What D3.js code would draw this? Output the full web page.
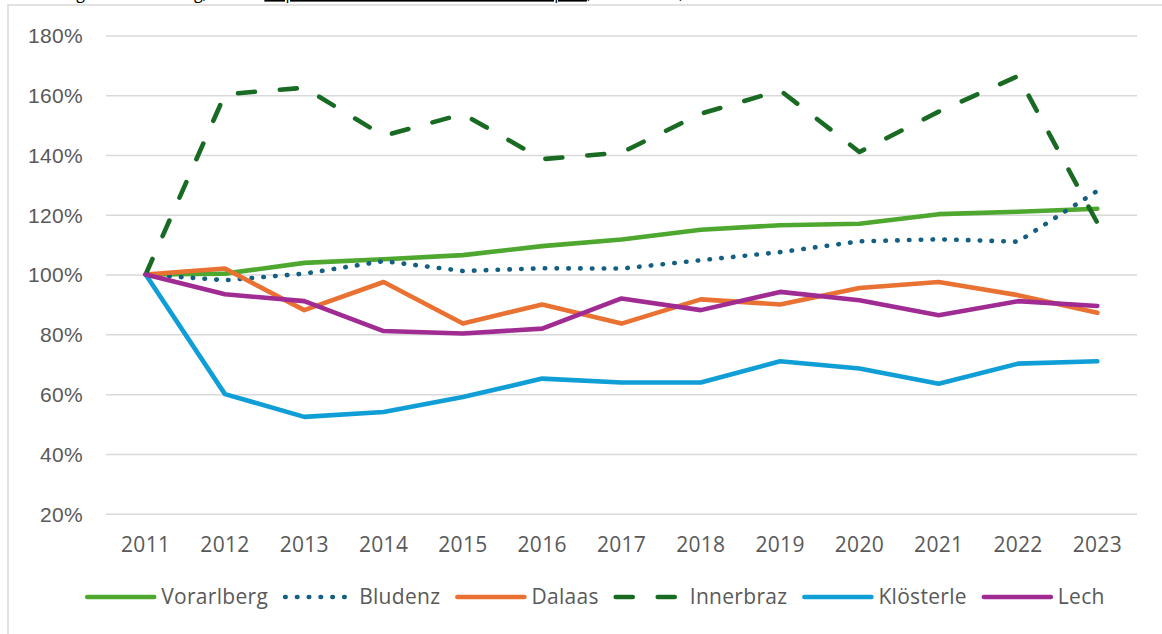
<!DOCTYPE html>
<html>
<head>
<meta charset="utf-8">
<script src="https://cdn.jsdelivr.net/npm/d3@7"></script>
<style>
  body { margin: 0; background: #fff; }
  svg { display: block; font-family: "Open Sans", "Liberation Sans", sans-serif; }
  .tick text, .xlab, .legend text { fill: #595959; font-size: 21px; letter-spacing: 0.3px; }
  .domain { display: none; }
  .grid line { stroke: #d9d9d9; stroke-width: 1.5; }
</style>
</head>
<body>
<div id="chart"></div>
<script>
var years = ["2011","2012","2013","2014","2015","2016","2017","2018","2019","2020","2021","2022","2023"]
var yTicks = [20,40,60,80,100,120,140,160,180]

var vorarlberg = [100,100.3,103.9,105.1,106.5,109.5,111.7,115,116.5,117,120.2,121,122]
var bludenz    = [100,98.1,100.3,104.5,101.2,102.1,102,104.8,107.5,111.1,111.8,111,128]
var dalaas     = [100,102,88.1,97.5,83.6,90,83.6,91.7,90,95.5,97.5,93.1,87.2]
var innerbraz  = [100,160.3,162.5,146.4,153.7,138.6,140.8,153.8,161.6,141,154.5,166.4,117.3]
var kloesterle = [100,60,52.4,54,59,65.2,63.9,63.9,71,68.6,63.5,70.2,71]
var lech       = [100,93.4,91.1,81.1,80.3,81.9,92,88.1,94.2,91.4,86.4,91.1,89.5]

var seriesNames = ["Vorarlberg","Bludenz","Dalaas","Innerbraz","Klösterle","Lech"]
var seriesValues = [vorarlberg, bludenz, dalaas, innerbraz, kloesterle, lech]
var seriesColors = ["#4ea72e","#156082","#e97132","#196b24","#0f9ed5","#a02b93"]
var seriesDash = [null, "0.5 11.3", null, "17 25", null, null]

var W = 1162, H = 634
var plot = {left: 106, right: 1137, top: 35.4, bottom: 513.7}

var svg = d3.select("#chart").append("svg")
  .attr("width", W)
  .attr("height", H)

// chart frame (right/bottom edges fall outside the crop)
svg.append("rect")
  .attr("x", 8).attr("y", 5)
  .attr("width", 1170).attr("height", 650)
  .attr("fill", "none")
  .attr("stroke", "#d9d9d9")
  .attr("stroke-width", 1.5)

// source line, cropped at the top edge like in the original
var src = svg.append("text")
  .attr("x", 10).attr("y", -1)
  .style("font-size", "16px")
  .style("fill", "#000")
src.append("tspan").text("Grafik: eigene Darstellung; Daten: ")
src.append("tspan").style("text-decoration", "underline")
  .text("https://www.statistik.at/atlas/blick/?mapid=")
src.append("tspan").text(", Stand 2024, Gemeinden")

var x = d3.scaleBand().domain(years).range([plot.left, plot.right])
var y = d3.scaleLinear().domain([20,180]).range([plot.bottom, plot.top])

function xc(d){ return x(d) + x.bandwidth()/2 }

svg.append("g")
  .attr("class", "grid")
  .attr("transform", "translate(" + plot.left + ",0)")
  .call(d3.axisLeft(y).tickValues(yTicks).tickSize(-(plot.right - plot.left)).tickPadding(23).tickFormat(function(d){ return d + "%" }))
  .selectAll("text").attr("dy", "0.35em")

svg.selectAll(".xlab")
  .data(years)
  .enter().append("text")
  .attr("class", "xlab")
  .attr("x", function(d){ return xc(d) })
  .attr("y", plot.bottom + 38)
  .attr("text-anchor", "middle")
  .text(function(d){ return d })

var line = d3.line()
  .x(function(d, i){ return xc(years[i]) })
  .y(function(d){ return y(d) })

seriesValues.forEach(function(vals, k){
  svg.append("path")
    .attr("d", line(vals))
    .attr("fill", "none")
    .attr("stroke", seriesColors[k])
    .attr("stroke-width", 4.6)
    .attr("stroke-linejoin", "round")
    .attr("stroke-linecap", "round")
    .attr("stroke-dasharray", seriesDash[k])
})

// legend
var legend = svg.append("g").attr("class", "legend")
var lx = 0
seriesNames.forEach(function(name, k){
  var g = legend.append("g")
  g.append("line")
    .attr("x1", 2).attr("x2", 69)
    .attr("y1", 0).attr("y2", 0)
    .attr("stroke", seriesColors[k])
    .attr("stroke-width", 4.6)
    .attr("stroke-linecap", "round")
    .attr("stroke-dasharray", seriesDash[k])
  var t = g.append("text")
    .attr("x", 76).attr("y", 0).attr("dy", "0.35em")
    .text(name)
  g.attr("transform", "translate(" + lx + ",0)")
  lx += 76 + t.node().getComputedTextLength() + 15
})
lx -= 15
legend.attr("transform", "translate(" + (595 - lx/2) + ",597)")
</script>
</body>
</html>
